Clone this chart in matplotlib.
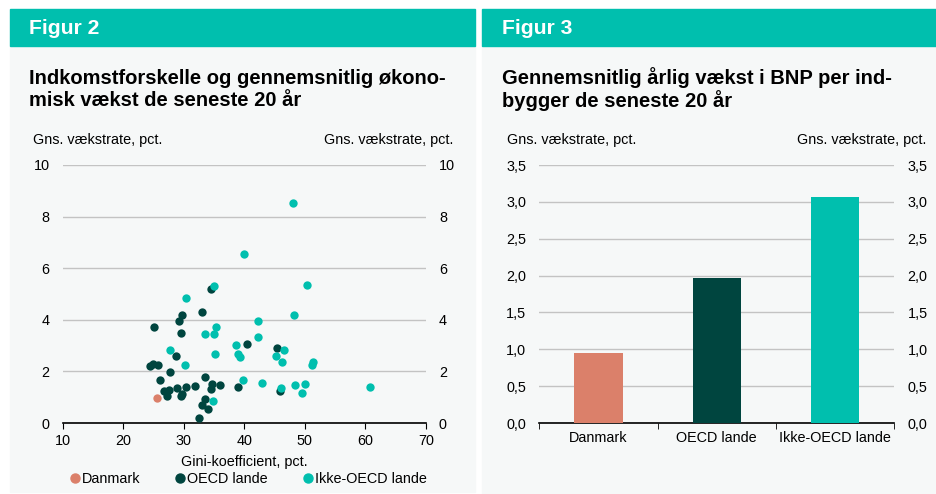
import numpy as np
import matplotlib
matplotlib.use("Agg")
import matplotlib.pyplot as plt
from matplotlib.patches import Rectangle
from matplotlib.ticker import FuncFormatter
from matplotlib.lines import Line2D

plt.rcParams['font.family'] = ['Liberation Sans', 'DejaVu Sans']

# data - figur 2 (gini vs growth)
dk_gini = [25.6]
dk_growth = [0.96]

oecd_gini = [34.5, 33.0, 29.8, 29.2, 25.1, 29.5, 40.4, 28.8, 24.5, 25.0, 25.8,
             27.8, 26.0, 33.6, 26.7, 27.6, 27.2, 28.9, 30.3, 29.6, 29.8, 31.8,
             34.7, 34.5, 36.0, 39.0, 33.6, 33.0, 34.0, 32.6, 45.4, 45.9]
oecd_growth = [5.20, 4.29, 4.17, 3.97, 3.73, 3.49, 3.07, 2.61, 2.21, 2.30, 2.25,
               1.98, 1.65, 1.77, 1.23, 1.28, 1.03, 1.36, 1.40, 1.05, 1.12, 1.45,
               1.51, 1.33, 1.47, 1.40, 0.93, 0.69, 0.54, 0.18, 2.91, 1.24]

non_oecd_gini = [40.0, 35.0, 30.4, 35.4, 33.6, 35.0, 42.2, 42.2, 38.6, 27.7,
                 35.2, 39.0, 39.3, 30.2, 39.8, 34.8, 48.0, 50.3, 48.3, 46.6,
                 45.3, 46.2, 51.3, 51.2, 43.0, 46.1, 48.4, 50.0, 49.5, 60.8]
non_oecd_growth = [6.55, 5.32, 4.84, 3.71, 3.46, 3.45, 3.94, 3.32, 3.02, 2.84,
                   2.69, 2.67, 2.57, 2.24, 1.67, 0.86, 8.54, 5.35, 4.20, 2.82,
                   2.61, 2.38, 2.38, 2.24, 1.55, 1.36, 1.46, 1.51, 1.17, 1.41]

# data - figur 3 (bars)
groups = ['Danmark', 'OECD lande', 'Ikke-OECD lande']
avg_growth = [0.95, 1.97, 3.07]

TEAL = '#00bfae'
DARK = '#00453f'
ORANGE = '#db806a'
BG = '#f6f8f8'
GRID = '#c3c3c3'
FS = 10.4

W, H = 937, 494
fig = plt.figure(figsize=(W / 100, H / 100), dpi=100)
fig.patch.set_facecolor('white')


def fx(x):
    return x / W


def fy(y):
    return 1 - y / H


def box(x0, y0, x1, y1, c):
    fig.patches.append(Rectangle((fx(x0), fy(y1)), fx(x1) - fx(x0), (y1 - y0) / H,
                                 transform=fig.transFigure, color=c, zorder=-10))


# panels
box(10, 45.7, 475.3, 492, BG)
box(10, 9, 475.3, 45.7, TEAL)
box(482, 45.7, 937, 494, BG)
box(482, 9, 937, 45.7, TEAL)

fig.text(fx(29), fy(28), 'Figur 2', color='white', fontsize=15.2, fontweight='bold', va='center')
fig.text(fx(502), fy(28), 'Figur 3', color='white', fontsize=15.2, fontweight='bold', va='center')

fig.text(fx(29), fy(78), 'Indkomstforskelle og gennemsnitlig økono-', fontsize=14.5,
         fontweight='bold', va='center')
fig.text(fx(29), fy(101), 'misk vækst de seneste 20 år', fontsize=14.5,
         fontweight='bold', va='center')
fig.text(fx(502), fy(78), 'Gennemsnitlig årlig vækst i BNP per ind-', fontsize=14.5,
         fontweight='bold', va='center')
fig.text(fx(502), fy(101), 'bygger de seneste 20 år', fontsize=14.5,
         fontweight='bold', va='center')

fig.text(fx(33), fy(140), 'Gns. vækstrate, pct.', fontsize=FS, va='center')
fig.text(fx(453), fy(140), 'Gns. vækstrate, pct.', fontsize=FS, va='center', ha='right')
fig.text(fx(507), fy(140), 'Gns. vækstrate, pct.', fontsize=FS, va='center')
fig.text(fx(926), fy(140), 'Gns. vækstrate, pct.', fontsize=FS, va='center', ha='right')


def style(ax):
    ax.set_facecolor('none')
    for s in ['top', 'left', 'right']:
        ax.spines[s].set_visible(False)
    ax.spines['bottom'].set_color('black')
    ax.spines['bottom'].set_linewidth(1.2)
    ax.yaxis.grid(True, color=GRID, lw=1)
    ax.set_axisbelow(True)
    ax.tick_params(axis='y', length=0, labelsize=FS, labelright=True, pad=9.5)
    ax.tick_params(axis='x', length=4, color='black', labelsize=FS, pad=4)


# ---- Figur 2 scatter
ax1 = fig.add_axes([fx(62.7), fy(423), (425.7 - 62.7) / W, (423 - 165) / H])
style(ax1)
ax1.set_xlim(10, 70)
ax1.set_ylim(0, 10)
ax1.set_xticks(np.arange(10, 71, 10))
ax1.set_yticks(np.arange(0, 11, 2))
ax1.set_xlabel('Gini-koefficient, pct.', fontsize=FS, labelpad=5)
ax1.scatter(dk_gini, dk_growth, s=36, color=ORANGE, lw=0, zorder=3)
ax1.scatter(oecd_gini, oecd_growth, s=36, color=DARK, lw=0, zorder=3)
ax1.scatter(non_oecd_gini, non_oecd_growth, s=36, color=TEAL, lw=0, zorder=4)

handles = [Line2D([], [], marker='o', ls='', color=c, markersize=6.5)
           for c in [ORANGE, DARK, TEAL]]
fig.legend(handles, ['Danmark', 'OECD lande', 'Ikke-OECD lande'], ncol=3,
           loc='center', bbox_to_anchor=(fx(247), fy(479)), frameon=False,
           fontsize=FS, handletextpad=0.0, columnspacing=2.25, handlelength=1.0)

# ---- Figur 3 bars
ax2 = fig.add_axes([fx(539.3), fy(423), (894.3 - 539.3) / W, (423 - 165) / H])
style(ax2)
xpos = np.arange(len(groups))
ax2.bar(xpos, avg_growth, width=0.41, color=[ORANGE, DARK, TEAL], zorder=3)
ax2.set_xlim(-0.5, 2.5)
ax2.set_ylim(0, 3.5)
ax2.set_yticks(np.arange(0, 3.51, 0.5))
ax2.yaxis.set_major_formatter(FuncFormatter(lambda v, p: f'{v:.1f}'.replace('.', ',')))
ax2.set_xticks(xpos)
ax2.set_xticklabels(groups)
ax2.tick_params(axis='x', length=0, pad=6)
ax2.set_xticks([-0.5, 0.5, 1.5, 2.5], minor=True)
ax2.tick_params(axis='x', which='minor', length=4, color='black')

fig.savefig('out.png', dpi=100)
